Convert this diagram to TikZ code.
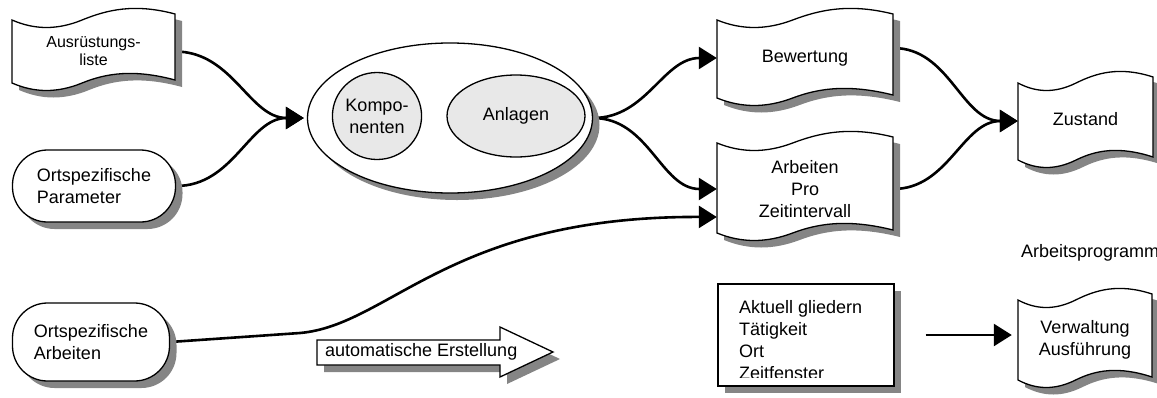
\documentclass[tikz,border=0pt]{standalone}
\usepackage{fontspec}
\setmainfont{Liberation Sans}
\usetikzlibrary{shapes.geometric,shadows,arrows.meta,backgrounds}

% wavy document outline between left x #1, top corner y #2, right x #3, bottom corner y #4
\newcommand{\wavebox}[4]{%
  \path[shade, draw, fill=white, line width=1.3pt]
    (#1,#2) .. controls ({#1+0.14*(#3-#1)},{#2+10}) and ({#1+0.28*(#3-#1)},{#2+10}) ..
    ({#1+0.43*(#3-#1)},#2) .. controls ({#1+0.58*(#3-#1)},{#2-10}) and ({#1+0.75*(#3-#1)},{#2-17}) ..
    (#3,{#2-6}) -- (#3,{#4-3}) .. controls ({#1+0.75*(#3-#1)},{#4-14}) and ({#1+0.58*(#3-#1)},{#4-10}) ..
    ({#1+0.43*(#3-#1)},#4) .. controls ({#1+0.28*(#3-#1)},{#4+10}) and ({#1+0.14*(#3-#1)},{#4+10}) ..
    (#1,#4) -- cycle;}

\begin{document}
\begin{tikzpicture}[x=1pt,y=-1pt,
  font=\fontsize{18}{22}\selectfont,
  shade/.style={drop shadow={shadow xshift=7pt,shadow yshift=-7pt,fill=black!48,opacity=1}},
  flagtext/.style={align=center, inner sep=0pt},
  pill/.style={draw, fill=white, line width=1.3pt, rounded corners=35pt,
    shade, align=left, inner sep=0pt},
  oval/.style={ellipse, draw, line width=1.3pt, inner sep=0pt, align=center},
  conn/.style={line width=2.6pt, -{Triangle[length=18pt,width=22pt]}},
]
\useasboundingbox (0,0) rectangle (1157,397);

% left column: inputs
\wavebox{12}{20}{175}{83}
\node[flagtext, minimum width=163pt, minimum height=63pt,
  font=\fontsize{16}{18}\selectfont] (liste) at (93.5,51.5) {Ausrüstungs-\\liste};
\node[pill, minimum width=163pt, minimum height=72pt] (param) at (94,186)
  {Ortspezifische\\Parameter};
\node[pill, minimum width=157pt, minimum height=78pt] (arb) at (91,342)
  {Ortspezifische\\Arbeiten};

% central object model
\node[oval, fill=white, shade, minimum width=285pt, minimum height=150pt] (model) at (450,118) {};
\node[oval, fill=black!9, minimum width=85pt, minimum height=87pt] (komp) at (377,116) {Kompo-\\nenten};
\node[oval, fill=black!9, minimum width=138pt, minimum height=82pt] (anl) at (516,116) {Anlagen};

% block arrow
\path[draw, fill=white, line width=1.3pt, shade]
  (317,340) -- (500,340) -- (500,327) -- (553,352) -- (500,377) -- (500,365) -- (317,365) -- cycle;
\node[anchor=west, inner sep=0pt] (auto) at (325,352) {automatische Erstellung};

% results
\wavebox{717}{20}{893}{98}
\node[flagtext, minimum width=176pt, minimum height=78pt] (bew) at (805,58) {Bewertung};
\wavebox{717}{143}{893}{233}
\node[flagtext, minimum width=176pt, minimum height=90pt] (zeit) at (805,189) {Arbeiten\\Pro\\Zeitintervall};
\wavebox{1018}{83}{1153}{160}
\node[flagtext, minimum width=135pt, minimum height=77pt] (zust) at (1085.5,119) {Zustand};

\node[anchor=west, inner sep=0pt] (prog) at (1021,253) {Arbeitsprogramm};

% work programme
\node[draw, fill=white, line width=1.3pt, shade, minimum width=176pt, minimum height=102pt,
  inner sep=0pt] (akt) at (806,335) {};
\begin{scope}
  \clip (719,285) rectangle (893,377);
  \node[anchor=north west, align=left, inner sep=0pt] (akttext) at (739,300)
    {Aktuell gliedern\\Tätigkeit\\Ort\\Zeitfenster};
\end{scope}
\wavebox{1018}{300}{1152}{380}
\node[flagtext, minimum width=134pt, minimum height=80pt] (verw) at (1085,340) {Verwaltung\\Ausführung};

% connectors
\begin{pgfonlayer}{background}
\draw[conn, shorten >=3pt] (liste.east) to[out=0,in=180] (model.west);
\draw[conn, shorten >=3pt] (param.east) to[out=0,in=180] (model.west);
\draw[conn] (arb.east) -- (300,333) .. controls (390,325) and (450,216) .. ([yshift=-28pt]zeit.west);
\draw[conn] (model.east) to[out=0,in=180] (bew.west);
\draw[conn] (model.east) to[out=0,in=180] (zeit.west);
\draw[conn] ([yshift=10pt]bew.east) to[out=0,in=180] ([yshift=-2pt]zust.west);
\draw[conn] (zeit.east) to[out=0,in=180] ([yshift=-2pt]zust.west);
\draw[conn, shorten <=31pt, shorten >=6pt] (akt.east) -- (verw.west |- akt.east);
\end{pgfonlayer}
\end{tikzpicture}
\end{document}
